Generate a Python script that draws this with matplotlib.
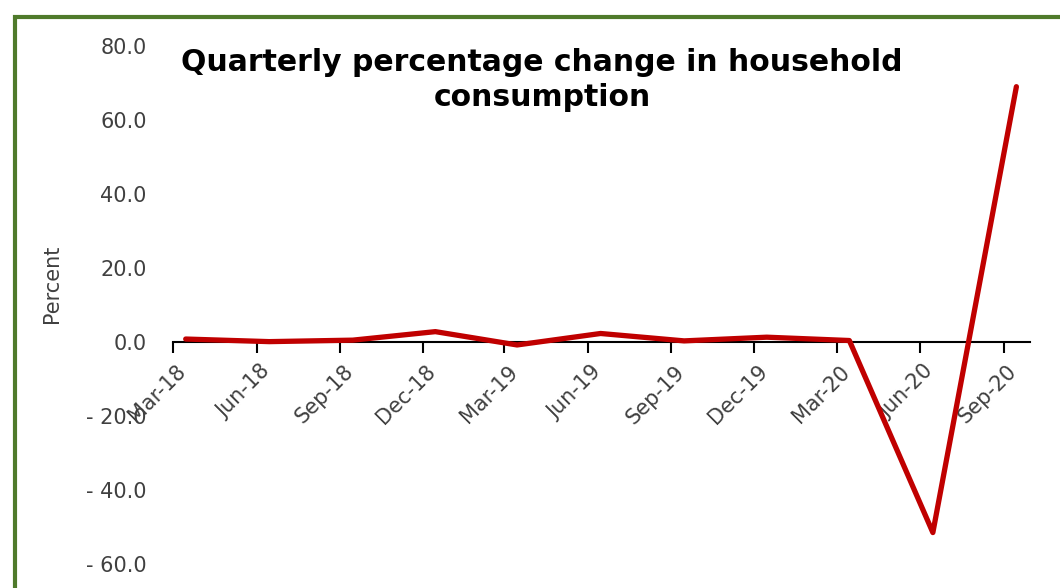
import matplotlib
matplotlib.use("Agg")
import matplotlib.pyplot as plt
import matplotlib.dates as mdates
import matplotlib.transforms as mtransforms
from matplotlib.patches import Rectangle
import pandas as pd

# quarter labels and household consumption change (%)
quarters = ["Mar-18", "Jun-18", "Sep-18", "Dec-18", "Mar-19", "Jun-19",
            "Sep-19", "Dec-19", "Mar-20", "Jun-20", "Sep-20"]
pct_change = [0.8, 0.1, 0.5, 2.8, -0.8, 2.3, 0.3, 1.3, 0.4, -51.5, 69.0]
y_ticks = [-60, -40, -20, 0, 20, 40, 60, 80]

LINE_RED = "#C00000"
TEXT_GREY = "#404040"
FRAME_GREEN = "#4F7A2B"

tick_dates = pd.date_range("2018-03-01", periods=len(quarters), freq="3MS")
# the series sits mid-month, a little right of each tick
point_dates = tick_dates + pd.Timedelta(days=14)
tick_x = mdates.date2num(tick_dates.to_pydatetime())
point_x = mdates.date2num(point_dates.to_pydatetime())
x_end = mdates.date2num(pd.Timestamp("2020-09-30").to_pydatetime())


def y_fmt(v):
    if v < 0:
        return f"- {abs(v):.1f}"
    return f"{v:.1f}"


fig = plt.figure(figsize=(10.6, 5.88), dpi=100)
fig.patch.set_facecolor("white")
ax = fig.add_axes([0.1632, 0.0408, 0.8085, 0.881])

# spine setup first: set_position resets the ticks
for side in ("left", "right", "top"):
    ax.spines[side].set_visible(False)
ax.spines["bottom"].set_position(("data", 0))
ax.spines["bottom"].set_linewidth(1.5)
ax.spines["bottom"].set_color("black")
ax.patch.set_alpha(0)

ax.plot(point_x, pct_change, color=LINE_RED, linewidth=3.8,
        solid_capstyle="round", solid_joinstyle="round", zorder=3)

ax.set_ylim(-60, 80)
ax.set_xlim(tick_x[0], x_end)

ax.set_yticks(y_ticks)
ax.set_yticklabels([y_fmt(v) for v in y_ticks], fontsize=15, color=TEXT_GREY)
ax.tick_params(axis="y", length=0, pad=19)

ax.tick_params(axis="x", direction="out", length=8, width=1.5, color="black", pad=6)
ax.set_xticks(tick_x)
ax.set_xticklabels(quarters, rotation=45, ha="right", va="top",
                   fontsize=15, color=TEXT_GREY)
shift = mtransforms.ScaledTranslation(17 / 100, 0, fig.dpi_scale_trans)
for lbl in ax.get_xticklabels():
    lbl.set_transform(lbl.get_transform() + shift)

ax.set_ylabel("Percent", fontsize=15, color=TEXT_GREY)
ax.yaxis.set_label_coords(-0.13, 0.54)

fig.text(542 / 1060, 1 - 80 / 588,
         "Quarterly percentage change in household\nconsumption",
         ha="center", va="center", fontsize=21.5, fontweight="bold",
         color="black", linespacing=1.25)

# green chart frame, cropped on the right and bottom
fig.add_artist(Rectangle((15 / 1060, -0.2), 1.2, 1 - 17 / 588 + 0.2,
                         transform=fig.transFigure, fill=False,
                         edgecolor=FRAME_GREEN, linewidth=3, zorder=0))

fig.savefig("out.png", dpi=100)
